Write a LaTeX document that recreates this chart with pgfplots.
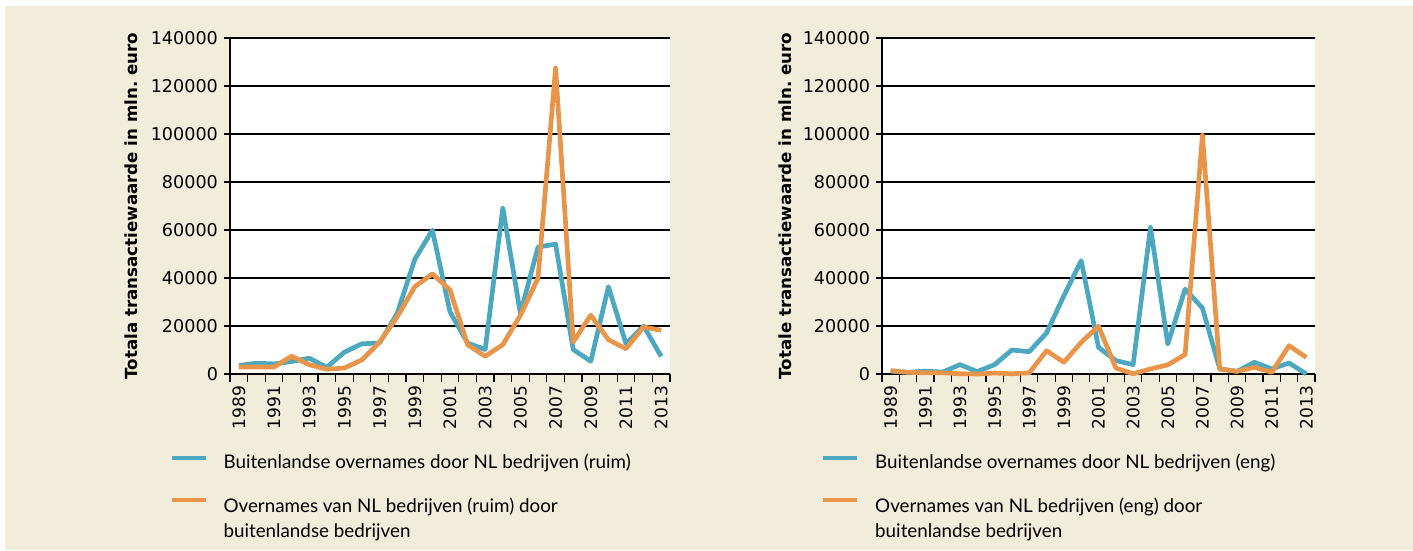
\documentclass[border=0pt]{standalone}
\usepackage{fontspec}
\setmainfont{DejaVu Sans}
\newfontfamily\legfont{Lato}
\usepackage{pgfplots}
\pgfplotsset{compat=1.18}
\frenchspacing
\definecolor{bg}{RGB}{242,236,219}
\definecolor{cblue}{RGB}{75,168,192}
\definecolor{corange}{RGB}{232,149,74}

\pgfplotsset{
  mystyle/.style={
    scale only axis,
    height=252pt,
    xmin=1988.5, xmax=2013.5,
    ymin=0, ymax=140000,
    ytick={0,20000,...,140000},
    scaled y ticks=false,
    /pgf/number format/fixed,
    /pgf/number format/precision=0,
    /pgf/number format/1000 sep={},
    /pgf/number format/assume math mode=true,
    xtick={1989,1991,...,2013},
    minor xtick={1988.5,1989.5,...,2013.5},
    axis x line*=bottom, axis y line*=left,
    axis line style={black, line width=0.9pt},
    axis background/.style={fill=white},
    ymajorgrids,
    major grid style={black, line width=0.9pt},
    tick align=outside,
    major tick length=4.5pt,
    minor tick length=6pt,
    major x tick style={draw=none},
    minor x tick style={black, line width=0.9pt},
    major y tick style={black, line width=0.9pt},
    yticklabel style={font=\fontsize{13.2}{15}\selectfont, xshift=-1pt},
    xticklabel style={font=\fontsize{12.8}{15}\selectfont, rotate=90, anchor=east, xshift=-1pt},
    ylabel style={font=\bfseries\fontsize{12.5}{15}\selectfont, anchor=center},
    clip=false,
    every axis plot/.append style={line width=3.5pt, line join=round},
    legend image code/.code={\draw[#1, line width=3pt] (0pt,0.35em) -- (25.5pt,0.35em);},
    legend cell align=left,
    legend style={draw=none, fill=none, inner sep=0pt, anchor=north west,
      column sep=10pt, row sep=14pt,
      font=\legfont\fontsize{14.1}{18.75}\selectfont},
  }
}

\begin{document}
\begin{tikzpicture}
\fill[white] (0pt,0pt) rectangle (1059.75pt,412.5pt);
\fill[bg] (3.75pt,0pt) rectangle (1059.75pt,408pt);

\begin{axis}[mystyle, at={(172.5pt,132pt)}, anchor=south west, width=330pt,
  ylabel={Totala transactiewaarde in mln. euro},
  ylabel style={at={(axis description cs:-0.225,0.5)}},
  legend style={at={(axis description cs:-0.138,-0.230)}}]
\addplot[cblue] coordinates {
(1989,3500)(1990,4500)(1991,4200)(1992,5200)(1993,6600)(1994,2800)(1995,9100)
(1996,12600)(1997,12900)(1998,25200)(1999,47800)(2000,59900)(2001,25900)
(2002,12900)(2003,10200)(2004,69200)(2005,25200)(2006,52900)(2007,54100)
(2008,10200)(2009,5300)(2010,36400)(2011,12600)(2012,20000)(2013,7300)};
\addlegendentry{Buitenlandse overnames door NL bedrijven (ruim)}
\addplot[corange] coordinates {
(1989,2900)(1990,2900)(1991,2900)(1992,7400)(1993,3900)(1994,2000)(1995,2500)
(1996,5900)(1997,13300)(1998,23800)(1999,36400)(2000,41700)(2001,35000)
(2002,12200)(2003,7400)(2004,12200)(2005,24500)(2006,39900)(2007,127500)
(2008,13300)(2009,24500)(2010,14300)(2011,10500)(2012,19600)(2013,18200)};
\addlegendentry{\begin{tabular}[t]{@{}l@{}}Overnames van NL bedrijven (ruim) door\\ buitenlandse bedrijven\end{tabular}}
\end{axis}

\begin{axis}[mystyle, at={(661.5pt,132pt)}, anchor=south west, width=324.75pt,
  ylabel={Totale transactiewaarde in mln. euro},
  ylabel style={at={(axis description cs:-0.224,0.5)}},
  legend style={at={(axis description cs:-0.141,-0.230)}}]
\addplot[cblue] coordinates {
(1989,1200)(1990,700)(1991,1200)(1992,800)(1993,3900)(1994,1000)(1995,3900)
(1996,10000)(1997,9300)(1998,17100)(1999,32600)(2000,47200)(2001,11100)
(2002,5600)(2003,3900)(2004,61100)(2005,12500)(2006,35400)(2007,27500)
(2008,2100)(2009,1100)(2010,4900)(2011,2100)(2012,4600)(2013,0)};
\addlegendentry{Buitenlandse overnames door NL bedrijven (eng)}
\addplot[corange] coordinates {
(1989,1400)(1990,700)(1991,500)(1992,500)(1993,100)(1994,0)(1995,400)
(1996,100)(1997,500)(1998,9700)(1999,4900)(2000,13200)(2001,19900)
(2002,2500)(2003,100)(2004,2100)(2005,3800)(2006,8100)(2007,99500)
(2008,2100)(2009,1100)(2010,2800)(2011,700)(2012,11800)(2013,6900)};
\addlegendentry{\begin{tabular}[t]{@{}l@{}}Overnames van NL bedrijven (eng) door\\ buitenlandse bedrijven\end{tabular}}
\end{axis}
\end{tikzpicture}
\end{document}
